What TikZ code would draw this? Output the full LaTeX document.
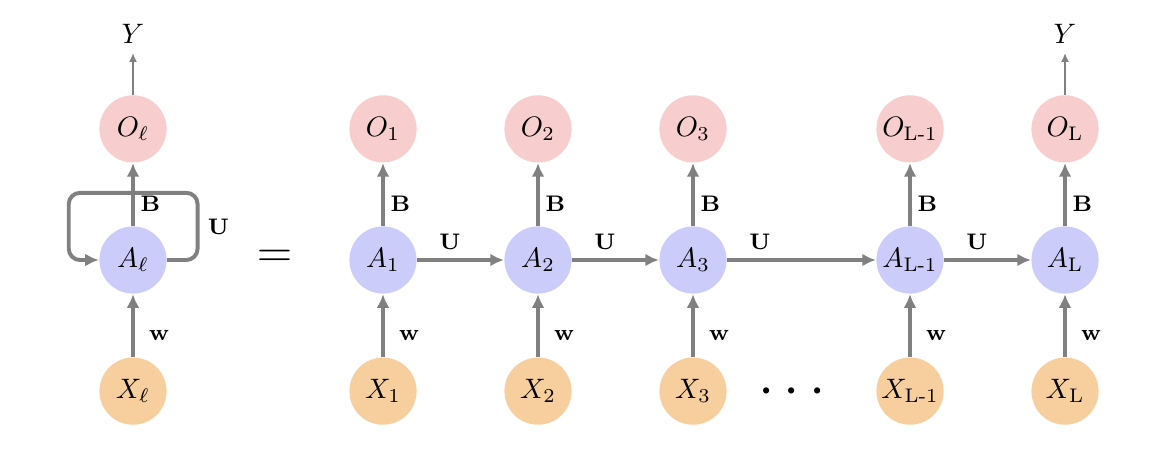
\documentclass[tikz,border=0pt]{standalone}
\usepackage{amsmath}
\usepackage{amssymb}
\usepackage{tikz}
\usetikzlibrary{arrows.meta,positioning,calc}
\definecolor{OutPink}{RGB}{247,205,206}
\definecolor{HidBlue}{RGB}{204,204,250}
\definecolor{InOrange}{RGB}{247,206,158}
\definecolor{ArrowGray}{RGB}{128,128,128}
\tikzset{
  cell/.style={circle, draw=none, minimum size=0.84cm, inner sep=0pt},
  outcell/.style={cell, fill=OutPink},
  hidcell/.style={cell, fill=HidBlue},
  incell/.style={cell, fill=InOrange},
  rnnarrow/.style={-{Latex[length=1.7mm,width=1.6mm]}, line width=1.4pt, draw=ArrowGray},
  yarrow/.style={-{Latex[length=1.1mm,width=1mm]}, line width=0.5pt, draw=ArrowGray},
  wlabel/.style={font=\footnotesize, inner sep=2pt},
  ulabel/.style={wlabel, pos=0, anchor=center, xshift=0.41cm, yshift=0.225cm}
}
\begin{document}
\begin{tikzpicture}
  \useasboundingbox (0,0) rectangle (14.475,5.65);

  \node[hidcell] (Al) at (1.6625,2.4) {$A_\ell$};
  \node[outcell, above=0.785cm of Al] (Ol) {$O_\ell$};
  \node[incell, below=0.785cm of Al] (Xl) {$X_\ell$};
  \node[above=0.52cm of Ol] (Yl) {$Y$};

  \node[font=\fontsize{18}{20}\selectfont] (eq) at (3.4375,2.41) {$=$};

  \node[hidcell] (A1) at (4.7875,2.4) {$A_1$};
  \node[hidcell] (A2) at (6.725,2.4) {$A_2$};
  \node[hidcell] (A3) at (8.6625,2.4) {$A_3$};
  \node[hidcell] (A4) at (11.375,2.4) {$A_{\text{L-1}}$};
  \node[hidcell] (A5) at (13.3125,2.4) {$A_{\text{L}}$};

  \node[outcell, above=0.785cm of A1] (O1) {$O_1$};
  \node[outcell, above=0.785cm of A2] (O2) {$O_2$};
  \node[outcell, above=0.785cm of A3] (O3) {$O_3$};
  \node[outcell, above=0.785cm of A4] (O4) {$O_{\text{L-1}}$};
  \node[outcell, above=0.785cm of A5] (O5) {$O_{\text{L}}$};
  \node[above=0.52cm of O5] (Y5) {$Y$};

  \node[incell, below=0.785cm of A1] (X1) {$X_1$};
  \node[incell, below=0.785cm of A2] (X2) {$X_2$};
  \node[incell, below=0.785cm of A3] (X3) {$X_3$};
  \node[incell, below=0.785cm of A4] (X4) {$X_{\text{L-1}}$};
  \node[incell, below=0.785cm of A5] (X5) {$X_{\text{L}}$};

  \node[font=\huge] (dots) at (9.9625,0.74) {$\cdots$};

  \draw[yarrow] (Ol) -- (Yl);
  \draw[rnnarrow] (Al) -- node[wlabel, right, pos=0.35] {$\mathbf{B}$} (Ol);
  \draw[rnnarrow] (Xl) -- node[wlabel, right=3pt, pos=0.34] {$\mathbf{w}$} (Al);
  \draw[rnnarrow, rounded corners=4pt] (Al.east) -- ++(0.38,0)
    -- node[wlabel, right=1pt] {$\mathbf{U}$} ++(0,0.84) -- ++(-1.61,0)
    -- ++(0,-0.84) -- (Al.west);

  \draw[rnnarrow] (A1) -- node[wlabel, right, pos=0.35] {$\mathbf{B}$} (O1);
  \draw[rnnarrow] (A2) -- node[wlabel, right, pos=0.35] {$\mathbf{B}$} (O2);
  \draw[rnnarrow] (A3) -- node[wlabel, right, pos=0.35] {$\mathbf{B}$} (O3);
  \draw[rnnarrow] (A4) -- node[wlabel, right, pos=0.35] {$\mathbf{B}$} (O4);
  \draw[rnnarrow] (A5) -- node[wlabel, right, pos=0.35] {$\mathbf{B}$} (O5);

  \draw[rnnarrow] (X1) -- node[wlabel, right=3pt, pos=0.34] {$\mathbf{w}$} (A1);
  \draw[rnnarrow] (X2) -- node[wlabel, right=3pt, pos=0.34] {$\mathbf{w}$} (A2);
  \draw[rnnarrow] (X3) -- node[wlabel, right=3pt, pos=0.34] {$\mathbf{w}$} (A3);
  \draw[rnnarrow] (X4) -- node[wlabel, right=3pt, pos=0.34] {$\mathbf{w}$} (A4);
  \draw[rnnarrow] (X5) -- node[wlabel, right=3pt, pos=0.34] {$\mathbf{w}$} (A5);

  \draw[rnnarrow] (A1) -- node[ulabel] {$\mathbf{U}$} (A2);
  \draw[rnnarrow] (A2) -- node[ulabel] {$\mathbf{U}$} (A3);
  \draw[rnnarrow] (A3) -- node[ulabel] {$\mathbf{U}$} (A4);
  \draw[rnnarrow] (A4) -- node[ulabel] {$\mathbf{U}$} (A5);

  \draw[yarrow] (O5) -- (Y5);
\end{tikzpicture}
\end{document}
